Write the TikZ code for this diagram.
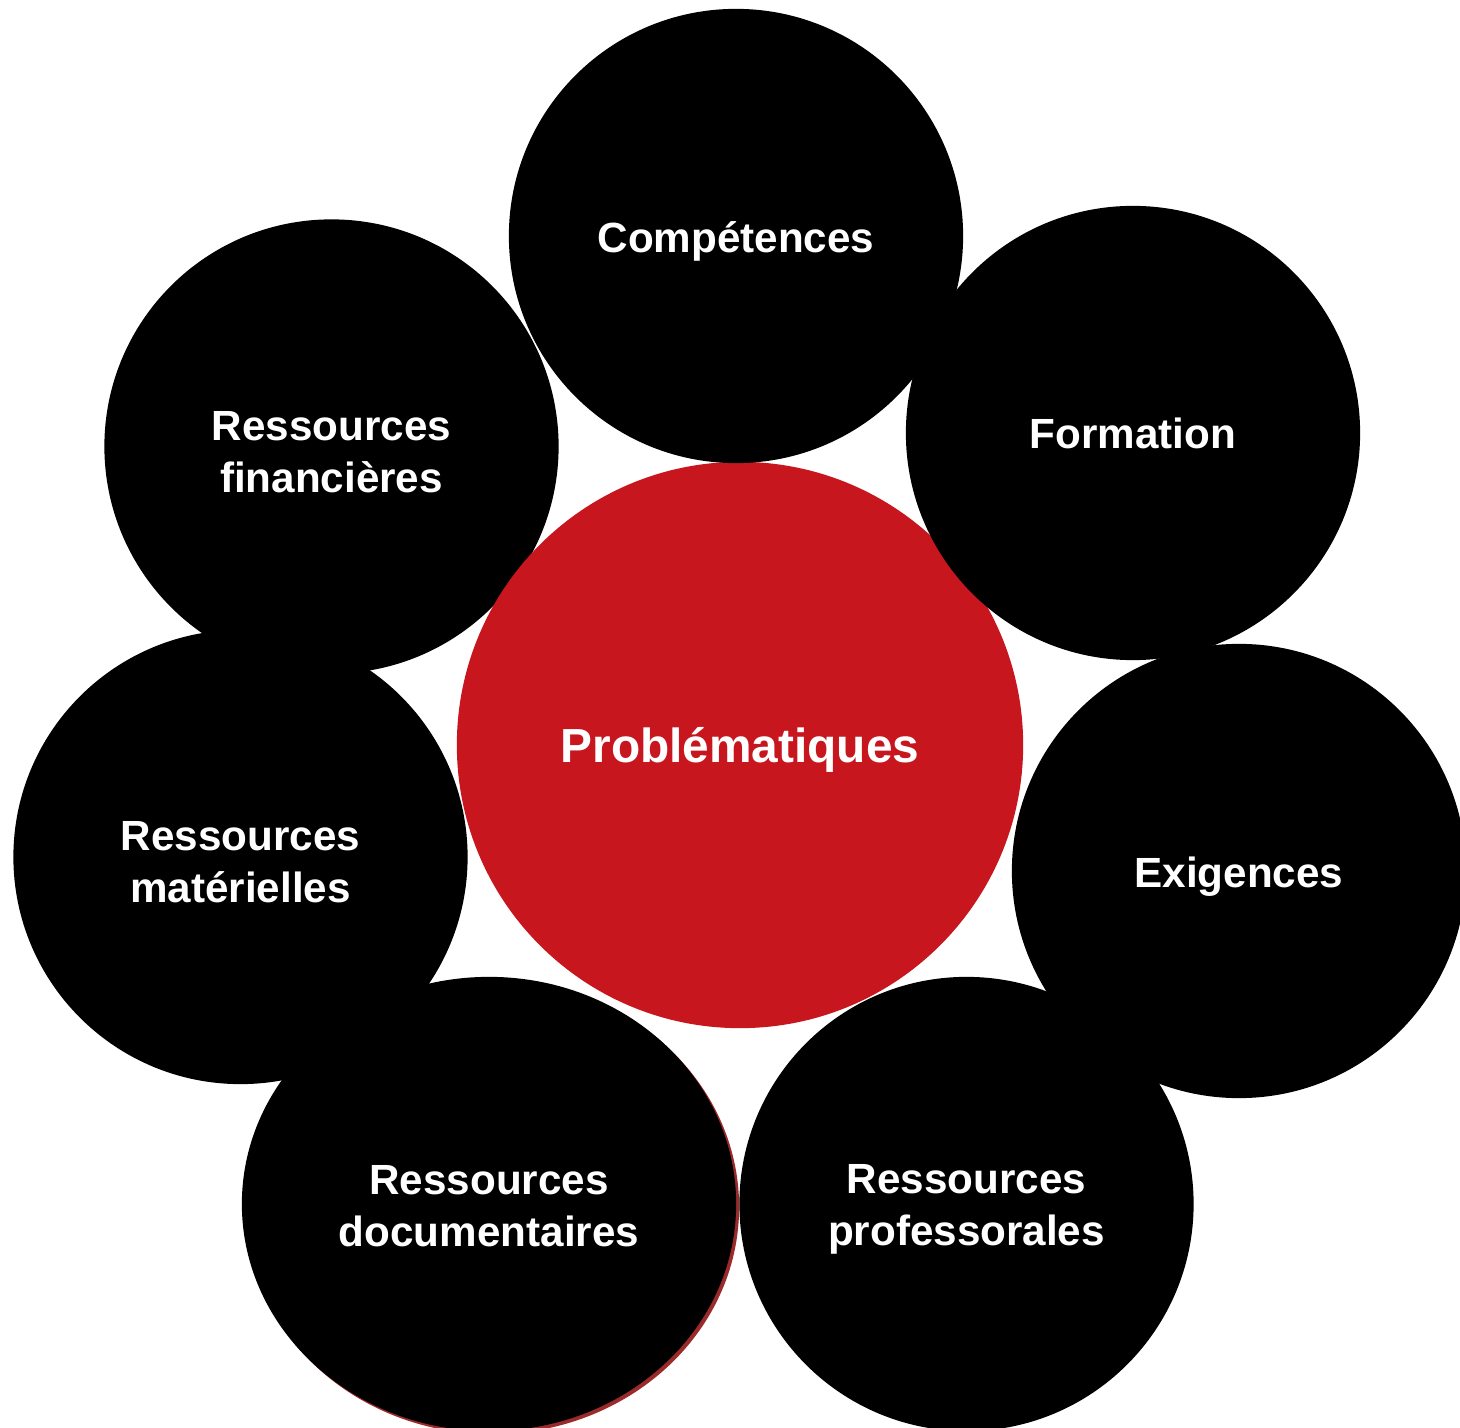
\documentclass[tikz,border=0pt]{standalone}
\usepackage{fontspec}
\setmainfont{Liberation Sans}
\usetikzlibrary{shapes.geometric}
\definecolor{probred}{RGB}{200,22,30}
\definecolor{shadowred}{RGB}{155,42,42}

\begin{document}
\begin{tikzpicture}[x=0.01cm,y=-0.01cm,
		bubble/.style={circle,fill=black,minimum size=4.54cm,inner sep=0pt},
		hub/.style={circle,fill=probred,minimum size=5.66cm,inner sep=0pt},
		lbl/.style={text=white,align=center,yshift=-1.5pt,
			font=\fontsize{12}{14.8}\selectfont\bfseries},
		hublbl/.style={lbl,font=\fontsize{13.6}{16}\selectfont\bfseries}]
		\useasboundingbox (0,0) rectangle (1460,1428);
		%left top, under the hub
		\node[bubble] (fin) at (331.5,446.5) {};
		\node[lbl] (fin-t) at (fin) {Ressources\\financières};
		%hub
		\node[hub] (prob) at (740,745) {};
		\node[hublbl] (prob-t) at (prob) {Problématiques};
		%ring
		\node[bubble] (comp) at (736,236) {};
		\node[lbl] (comp-t) at (comp) {Compétences};
		\node[bubble] (form) at (1133,433) {};
		\node[lbl,yshift=1.5pt] (form-t) at (form) {Formation};
		\node[bubble] (exig) at (1239,871) {};
		\node[lbl] (exig-t) at (exig) {Exigences};
		\node[bubble] (prof) at (966.5,1204) {};
		\node[lbl] (prof-t) at (prof) {Ressources\\professorales};
		\node[bubble] (mat) at (240.5,857) {};
		\node[lbl] (mat-t) at (mat) {Ressources\\matérielles};
		%documentaires, with its red shadow
		\node[ellipse,fill=shadowred,minimum width=4.94cm,minimum height=4.54cm]
			(docshadow) at (492,1207) {};
		\node[bubble,ellipse,minimum width=4.94cm,minimum height=4.54cm]
			(doc) at (489,1204) {};
		\node[lbl,yshift=1pt] (doc-t) at (doc) {Ressources\\documentaires};
	\end{tikzpicture}
\end{document}
